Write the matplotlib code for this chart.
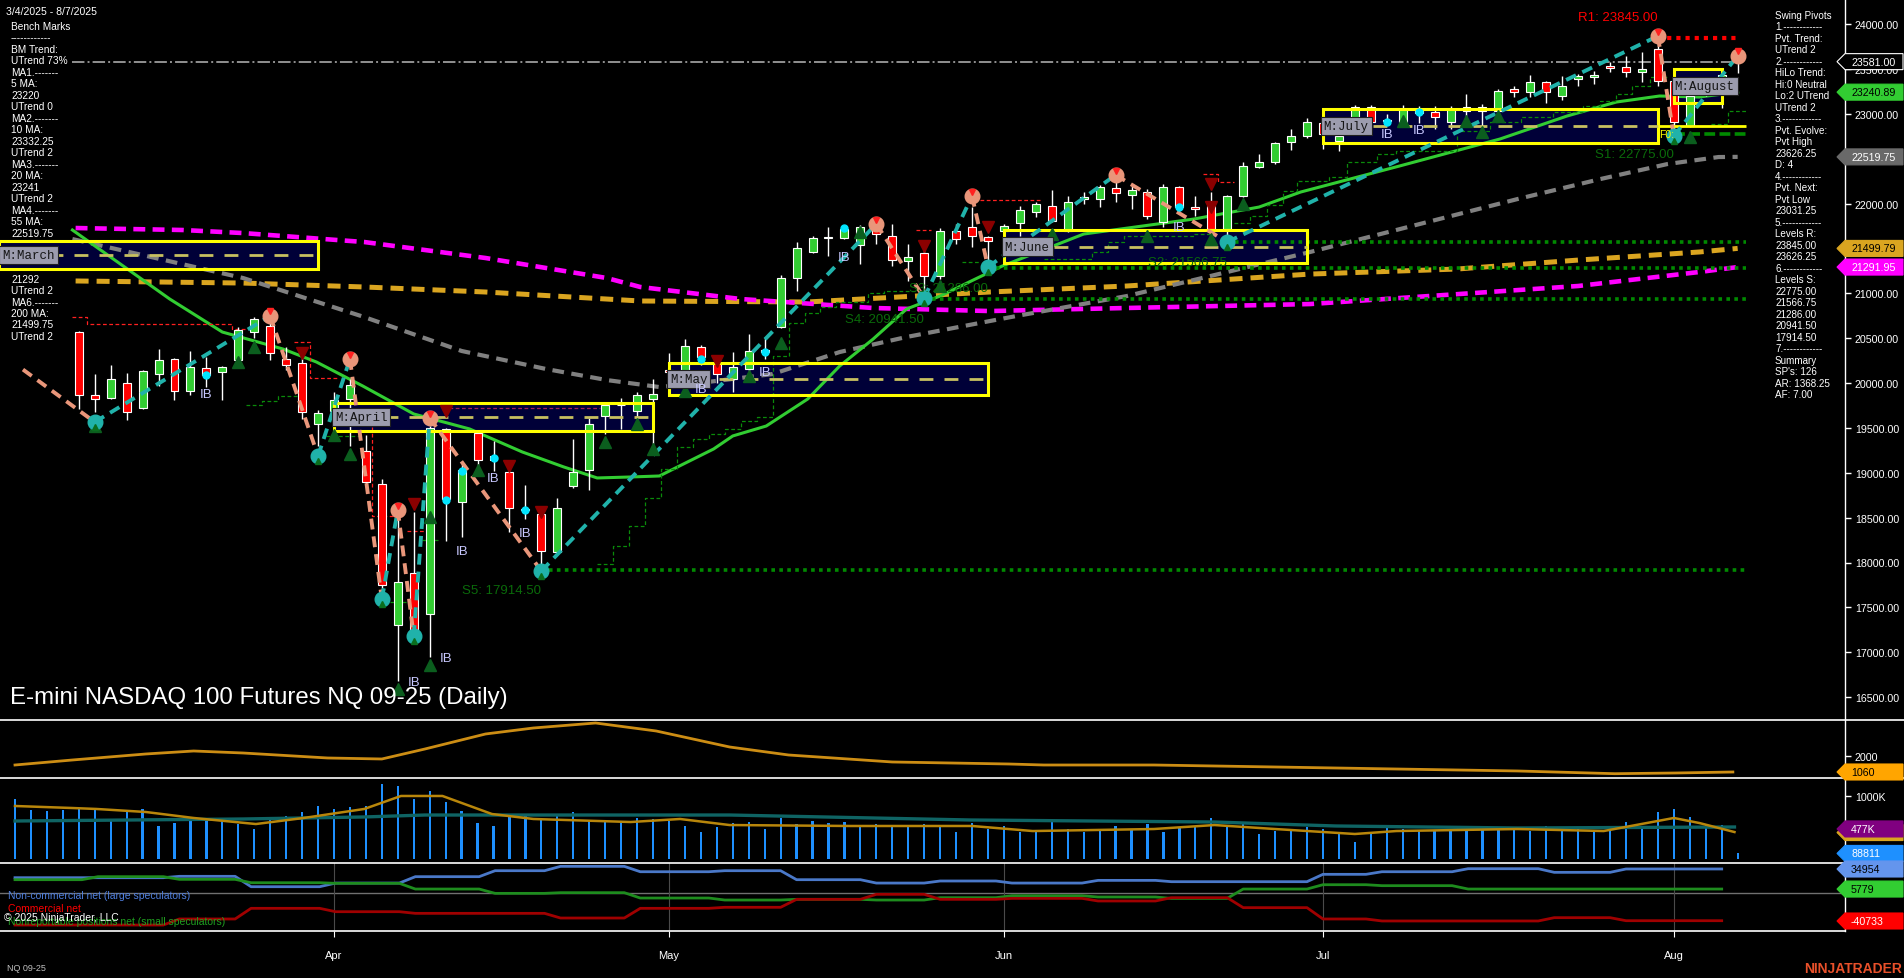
import matplotlib
matplotlib.use("Agg")
import matplotlib.pyplot as plt
from matplotlib.lines import Line2D
from matplotlib.patches import Rectangle, Polygon
from matplotlib.transforms import IdentityTransform
import numpy as np

plt.rcParams['font.family'] = ['Liberation Sans', 'DejaVu Sans']

W, H = 1904, 979

# ---------------- data ----------------
# bar index 0 = 3/4/2025, one bar per trading day
month_labels = ["Apr", "May", "Jun", "Jul", "Aug"]
month_first_bar = [20, 41, 62, 82, 104]

first_bar = 4  # 3/10/2025, first candle shown
opens = [20565, 19866, 19830, 19997, 19725, 20100, 20267, 19914, 20164, 20119,
         20260, 20572, 20639, 20267, 20223, 19540, 19690, 19822, 19239, 18871,
         17307, 17880, 17426, 19487, 18677, 19443, 19140, 19005, 18580, 18540,
         18120, 18856, 19034, 19629, 19750, 19691, 19822, 20150, 20050, 20398,
         20230, 20045, 20156, 20370, 20621, 21173, 21463, 21615, 21612, 21538,
         21720, 21635, 21363, 21449, 21196, 21697, 21735, 21624, 21697, 21782,
         21910, 21969, 21697, 22050, 22050, 22169, 22092, 22132, 21790, 22180,
         21958, 21969, 21716, 22087, 22410, 22466, 22682, 22756, 22900, 22700,
         22900, 23072, 22915, 22905, 23010, 23016, 22905, 23072, 23035, 23035,
         23276, 23239, 23350, 23201, 23387, 23406, 23529, 23518, 23462, 23721,
         23369, 22867, 23369, 23260, 23620]
highs = [20580, 20100, 20200, 20111, 20150, 20379, 20275, 20360, 20286, 20190,
         20621, 20732, 20788, 20400, 20350, 19700, 19900, 20045, 19420, 18930,
         18577, 18566, 19520, 19500, 19097, 19460, 19357, 19060, 18863, 18590,
         18715, 19376, 19606, 19792, 19830, 19897, 20045, 20334, 20490, 20420,
         20250, 20342, 20546, 20509, 21203, 21568, 21641, 21735, 21746, 21760,
         21772, 21772, 21549, 21500, 21723, 21772, 21960, 21641, 21772, 21969,
         22014, 22150, 22081, 22128, 22206, 22260, 22199, 22162, 22217, 22200,
         22087, 22124, 22100, 22458, 22552, 22689, 22830, 22950, 22950, 22900,
         23100, 23100, 23000, 23100, 23090, 23090, 23090, 23220, 23110, 23276,
         23313, 23432, 23369, 23417, 23443, 23481, 23573, 23647, 23685, 23845,
         23400, 23220, 23400, 23480, 23650]
lows = [19710, 19680, 19825, 19591, 19715, 19970, 19814, 19866, 19952, 19814,
        20230, 20498, 20256, 20150, 19600, 19302, 19650, 19302, 18850, 17590,
        16683, 17150, 16944, 18243, 18281, 18967, 19023, 18337, 18485, 17914,
        18110, 18834, 18811, 19432, 19487, 19599, 19320, 19980, 19950, 20200,
        20000, 19900, 20138, 20267, 20610, 21029, 21448, 21412, 21600, 21326,
        21550, 21307, 21140, 20942, 21159, 21549, 21512, 21286, 21660, 21641,
        21846, 21791, 21679, 21990, 21958, 22014, 21939, 21827, 21735, 21900,
        21864, 21679, 21567, 22069, 22392, 22440, 22600, 22730, 22607, 22590,
        22880, 22850, 22880, 22880, 22900, 22830, 22830, 22867, 22830, 23000,
        23183, 23183, 23120, 23157, 23313, 23332, 23462, 23406, 23357, 23313,
        22775, 22850, 23200, 23060, 23450]
closes = [19870, 19822, 20045, 19673, 20134, 20256, 19914, 20175, 20089, 20175,
          20591, 20713, 20331, 20204, 19673, 19662, 19810, 19978, 18894, 17753,
          17779, 17185, 19495, 18707, 19034, 19145, 19190, 18604, 18600, 18132,
          18604, 19012, 19543, 19755, 19760, 19866, 19878, 20120, 20416, 20288,
          20100, 20175, 20360, 20340, 21166, 21501, 21612, 21625, 21716, 21735,
          21660, 21374, 21400, 21196, 21697, 21604, 21635, 21586, 21753, 21928,
          21995, 21802, 22014, 22070, 22180, 22117, 22154, 21864, 22180, 21958,
          21939, 21716, 22080, 22421, 22466, 22674, 22756, 22905, 22780, 22756,
          23072, 22905, 22930, 23053, 23030, 22961, 23053, 23035, 23072, 23257,
          23239, 23350, 23239, 23313, 23424, 23432, 23506, 23462, 23499, 23368,
          22905, 23201, 23276, 23430, 23581]

# moving averages (bar index, price)
ma20_i = [3.6, 9.7, 13, 16.8, 18.9, 21.8, 25, 28.5, 31.8, 34.4, 36.5, 38.6, 40.4, 43.8, 45, 47.1,
          49.7, 51.7, 53.8, 55.9, 58, 61.9, 67, 73.9, 78, 80.6, 86.8, 93.1, 97.3, 100.4, 103.1, 105.6, 108]
ma20_p = [21705, 20936, 20568, 20379, 20234, 19967, 19655, 19488, 19232, 19065, 18942, 18953, 18964,
          19265, 19410, 19521, 19822, 20189, 20490, 20825, 20969, 21304, 21660, 21827, 21961, 22128,
          22418, 22719, 22975, 23131, 23198, 23187, 23241]
ma55_i = [3.6, 14.3, 21.9, 28, 33.3, 37.1, 40.4, 43.4, 47.5, 51.7, 55.9, 61.1, 62.8, 69.7, 76, 81.2,
          94.2, 99.4, 103.6, 106.8, 108]
ma55_p = [21604, 21170, 20735, 20357, 20156, 20033, 19955, 20011, 20100, 20345, 20513, 20690, 20747,
          20969, 21237, 21460, 22050, 22273, 22440, 22518, 22520]
ma100_i = [3.8, 10.5, 14.3, 21.9, 29.5, 37.1, 39.2, 45.5, 53.8, 61.1, 69.7, 81.2, 98, 105.6, 108]
ma100_p = [21727, 21705, 21671, 21571, 21393, 21170, 21070, 20936, 20836, 20802, 20836, 20880,
           21081, 21237, 21292]
ma200_i = [3.8, 14.3, 21.9, 29.5, 39.2, 49.7, 61.1, 69.7, 81.2, 90.4, 98, 105.6, 108]
ma200_p = [21137, 21114, 21070, 21014, 20914, 20903, 21014, 21081, 21214, 21270, 21370, 21460, 21500]

# swing pivots (alternating high / low, first one is a high)
piv_i = [0.5, 5, 16, 19, 21, 23, 24, 25, 26, 33, 54, 57, 60, 61, 69, 76, 103, 104, 108]
piv_p = [20150, 19565, 20747, 19187, 20267, 17593, 18585, 17181, 19610, 17905, 21772, 20947,
         22084, 21293, 22318, 21571, 23866, 22752, 23646]

# monthly ranges
box_names = ["March", "April", "May", "June", "July", "August"]
box_start = [-1, 20, 41, 62, 82, 104]
box_end = [19, 40, 61, 81, 103, 107]
box_top = [21582, 19777, 20223, 21705, 23053, 23499]
box_bot = [21270, 19465, 19866, 21337, 22674, 23120]

# support / resistance levels
level_names = ["R1", "S1", "S2", "S3", "S4", "S5"]
level_vals = [23845.00, 22775.00, 21566.75, 21286.00, 20941.50, 17914.50]
level_from = [103, 104, 76, 61, 57, 33]

# trailing stop steps (runs of [bar index, price])
green_stops = [
    [(14.5, 19755), (15.5, 19800), (16.5, 19855), (17.7, 19855)],
    [(19.5, 19409), (21.8, 19409)],
    [(23.5, 17560), (24.5, 17560)],
    [(25.5, 18251), (26.5, 18251)],
    [(36.5, 17983), (37.5, 18184), (38.5, 18407), (39.5, 18719), (40.5, 19040), (41.5, 19287),
     (42.5, 19376), (43.5, 19432), (44.5, 19488), (45.5, 19577), (46.5, 19621), (47.5, 20301),
     (48.5, 20669), (49.5, 20780), (50.5, 20847), (51.5, 20900), (53.5, 21003), (54.5, 21025),
     (57.3, 21025)],
    [(59.4, 21348), (60.5, 21348)],
    [(64.5, 21382), (67.5, 21460), (68.5, 21571), (69.5, 21641), (73.9, 21660), (75.0, 21660)],
    [(76.4, 21783), (77.4, 21861), (78.5, 21983), (79.5, 22139), (80.4, 22250), (82.4, 22295),
     (83.5, 22462), (85.4, 22552), (86.6, 22585), (90.4, 22808), (92.5, 22908), (94.4, 22964),
     (96.4, 23019), (98.3, 23086), (99.4, 23142), (100.4, 23220), (101.4, 23309), (102.5, 23409),
     (103.6, 23409)],
    [(106.3, 22886), (107.4, 23031), (108.5, 23031)],
]
red_stops = [
    [(3.6, 20735), (4.5, 20657), (13.6, 20602), (14.5, 20602)],
    [(17.5, 20457), (18.5, 20056), (20.3, 20056)],
    [(21.8, 19688), (22.4, 18518), (24.0, 18518)],
    [(24.6, 18351), (25.8, 18351)],
    [(56.5, 21705), (57.4, 21705)],
    [(60.5, 22039), (64.4, 22039)],
    [(74.5, 22329), (75.4, 22240), (76.4, 22240)],
]
maroon_stop = [(27.2, 19721), (36.7, 19721)]

up_tri_i = [5, 14, 15, 20, 21, 24, 26, 26, 29, 37, 39, 40, 42, 46, 48, 53, 58, 65, 71, 75, 77, 87, 91,
            92, 93, 105]
up_tri_p = [19521, 20234, 20401, 19420, 19209, 16591, 18507, 16858, 19031, 19343, 19543, 19265, 19911,
            20078, 20446, 21683, 21081, 21660, 21638, 21604, 21994, 22919, 22919, 22797, 22975, 22741]
dn_tri_i = [18, 25, 27, 31, 33, 44, 57, 61, 75, 75]
dn_tri_p = [20334, 18652, 19688, 19075, 18563, 20245, 21527, 21738, 22217, 21961]
ib_i = [12, 25, 27, 28, 30, 32, 43, 47, 52, 73, 86, 88]
ib_p = [19877, 16669, 16936, 18128, 18942, 18329, 19933, 20123, 21404, 21738, 22774, 22819]
dot_i = [12, 27, 28, 30, 32, 43, 47, 52, 73, 86, 88]
dot_p = [20089, 18697, 19020, 19164, 18585, 20267, 20346, 21727, 21961, 22908, 23019]

bm_level = 23581.0

# indicator panel
atr_i = [0, 3.6, 8.2, 11.2, 14.3, 19.6, 23, 25.7, 29.5, 32.5, 36.4, 40.2, 44.8, 48.5, 55, 62.3, 64.5,
         71.4, 79, 86.6, 94.2, 100.3, 104.1, 107.7]
atr_v = [1471, 1765, 2118, 2294, 2176, 1883, 1824, 2411, 3293, 3645, 3939, 3469, 2529, 2059, 1648,
         1530, 1471, 1471, 1354, 1236, 1120, 960, 1001, 1060]

# volume (thousands of contracts), one per bar from index 0
volume_k = [952, 782, 767, 782, 793, 782, 635, 741, 793,
            529, 571, 608, 635, 624, 555, 476, 635,
            687, 741, 836, 793, 820, 846, 1190, 1163, 952, 1084, 900, 767, 571, 529, 661, 687,
            645, 687, 741, 608, 608, 582, 645, 635, 608, 529, 423, 503, 571,
            582, 476, 645, 555, 608, 571, 582, 503, 555, 518, 540, 555, 503,
            423, 571, 476, 529, 423, 423,
            582, 476, 434, 476, 518, 476, 555, 423, 487, 518,
            645, 503, 571, 397, 450, 476, 503, 476, 397, 264,
            397, 503, 476, 450, 450, 476, 518, 518, 503,
            476, 450, 529, 503, 476, 450, 503, 582, 529,
            741, 793, 661, 540, 540, 89]
vma_fast_i = [0, 3.6, 5.1, 8.2, 11.2, 15.1, 18.1, 21.9, 24.2, 26.8, 29.9, 32.5, 38.6, 41.7, 44.8, 52.4,
              60, 63.8, 71.4, 75.2, 79, 84, 86.6, 94.2, 99.6, 104, 105.6, 107.8]
vma_fast_k = [841, 809, 794, 746, 651, 555, 651, 794, 1000, 1000, 714, 635, 587, 635, 539, 524, 524,
              444, 476, 539, 476, 397, 444, 476, 444, 651, 571, 428]
vma_slow_i = [0, 14.3, 21.9, 25.7, 44.8, 59.9, 75.2, 82.8, 94.2, 107.8]
vma_slow_k = [603, 635, 667, 698, 698, 619, 587, 524, 492, 508]

# COT weekly net positions (thousands), week boundaries in bar index
cot_breaks = [4.7, 9.8, 14.3, 19.6, 24.6, 29.6, 33.7, 38.7, 44.0, 48.5, 53.5, 57.5, 62.0, 67.4,
              72.0, 76.5, 81.5, 85.2, 90.6, 96.0, 100.5]
cot_large = [22.3, 22.3, 24.3, 9.2, 14.5, 23.8, 32.5, 38.8, 31.0, 32.5, 19.4, 14.5, 17.5, 14.5, 18.4,
             16.5, 16.5, 27.2, 31.0, 35.4, 30.1, 35.0]
cot_small = [19.4, 23.8, 19.9, 15.0, 14.1, 5.8, -0.5, 0.5, -7.3, -10.2, -9.2, -10.2, -6.8, -3.9, -5.8,
             -7.8, 5.8, 12.1, 10.7, 5.8, 5.8, 5.8]
cot_comm = [-46.6, -46.6, -37.8, -22.3, -27.2, -29.6, -29.6, -36.4, -22.3, -20.8, -9.2, -1.9, -9.2,
            -7.8, -11.6, -6.8, -21.3, -37.8, -40.7, -40.7, -35.9, -40.3]

left_lines = ["Bench Marks", "------------", "BM Trend:", "UTrend 73%", "MA1.-------", "5 MA:", "23220",
              "UTrend 0", "MA2.-------", "10 MA:", "23332.25", "UTrend 2", "MA3.-------", "20 MA:",
              "23241", "UTrend 2", "MA4.-------", "55 MA:", "22519.75", "UTrend 2", "MA5.-------",
              "100 MA:", "21292", "UTrend 2", "MA6.-------", "200 MA:", "21499.75", "UTrend 2"]
right_lines = ["Swing Pivots", "1.------------", "Pvt. Trend:", "UTrend 2", "2.------------",
               "HiLo Trend:", "Hi:0 Neutral", "Lo:2 UTrend", "UTrend 2", "3.------------",
               "Pvt. Evolve:", "Pvt High", "23626.25", "D: 4", "4.------------", "Pvt. Next:",
               "Pvt Low", "23031.25", "5.------------", "Levels R:", "23845.00", "23626.25",
               "6.------------", "Levels S:", "22775.00", "21566.75", "21286.00", "20941.50",
               "17914.50", "7.------------", "Summary", "SP's: 126", "AR: 1368.25", "AF: 7.00"]

# ---------------- figure ----------------
fig = plt.figure(figsize=(W / 100, H / 100), dpi=100, facecolor="black")
XR = 1845
ax = fig.add_axes([0, (H - 721) / H, XR / W, 721 / H])
ax2 = fig.add_axes([0, (H - 779) / H, XR / W, 58 / H])
ax3 = fig.add_axes([0, (H - 864) / H, XR / W, 85 / H])
ax4 = fig.add_axes([0, (H - 932) / H, XR / W, 68 / H])

xlim = (-0.94, 114.73)
for a in (ax, ax2, ax3, ax4):
    a.set_facecolor("black")
    a.set_xlim(*xlim)
    for s in a.spines.values():
        s.set_visible(False)
    a.tick_params(axis="x", bottom=False, labelbottom=False)
    a.yaxis.tick_right()
    a.tick_params(axis="y", colors="white", labelcolor="white", labelsize=7.7, length=4, width=1,
                  direction="out", pad=3)

ax.set_ylim(16245, 24279)
ax2.set_ylim(707, 4115)
ax3.set_ylim(-63, 1285)
ax4.set_ylim(-55.3, 43.7)

ax.set_yticks(np.arange(16500, 24001, 500))
ax.set_yticklabels([f"{v:.2f}" for v in np.arange(16500, 24001, 500)])
ax2.set_yticks([2000])
ax2.set_yticklabels(["2000"])
ax3.set_yticks([1000])
ax3.set_yticklabels(["1000K"])
ax4.set_yticks([])

# left / right text blocks
ax.text(6 / W, 1 - 12 / H, "3/4/2025 - 8/7/2025", transform=fig.transFigure, color="white",
        fontsize=7.6, va="center", zorder=0.5)
for k, s in enumerate(left_lines):
    ax.text(11 / W, 1 - (27 + k * 11.48) / H, s, transform=fig.transFigure, color="white",
            fontsize=7.3, va="center", zorder=0.5)
for k, s in enumerate(right_lines):
    ax.text(1775 / W, 1 - (15.7 + k * 11.5) / H, s, transform=fig.transFigure, color="white",
            fontsize=7.1, va="center", zorder=0.5)

# monthly boxes
for name, s0, s1, top, bot in zip(box_names, box_start, box_end, box_top, box_bot):
    mid = (top + bot) / 2
    ax.add_patch(Rectangle((s0, bot), s1 - s0, top - bot, facecolor="#000038", edgecolor="none", zorder=1))
    ax.add_patch(Rectangle((s0, bot), s1 - s0, top - bot, fill=False, edgecolor="#ffff00", lw=2.2, zorder=4.5))
    ax.hlines(mid, s0, s1, colors="#c8c060", linestyles=(0, (5, 4)), lw=2, zorder=4.6)
    ax.text(max(s0, xlim[0] + 0.1) + 0.05, mid, "M:" + name, family="Liberation Mono", fontsize=9,
            color="#151515", va="center", ha="left", zorder=7,
            bbox=dict(boxstyle="square,pad=0.25", facecolor="#9c9cae", edgecolor="#202020", lw=0.8))
# previous month mid extended
ax.hlines((box_top[4] + box_bot[4]) / 2, box_end[4], 108.5, colors="#ffff00", lw=2, zorder=4.6)
ax.text(box_end[4] + 0.1, (box_top[4] + box_bot[4]) / 2 - 90, "F0:", color="#ffff00", fontsize=7.5,
        va="center", zorder=7)

# moving averages
ax.plot(ma200_i, ma200_p, color="#daa520", lw=3.6, ls=(0, (2.6, 1.6)), zorder=2)
ax.plot(ma100_i, ma100_p, color="#ff00ff", lw=3.3, ls=(0, (2.6, 1.6)), zorder=2)
ax.plot(ma55_i, ma55_p, color="#808080", lw=3.0, ls=(0, (2.8, 1.8)), zorder=2)
ax.plot(ma20_i, ma20_p, color="#32cd32", lw=2.2, zorder=2.2)
ax.hlines(bm_level, 3.6, 108, colors="#909090", linestyles="dashdot", lw=1.4, zorder=2)

# trailing stops
for run in green_stops:
    xs, ys = zip(*run)
    ax.plot(xs, ys, drawstyle="steps-post", color="#0a8a0a", lw=0.9, ls=(0, (3, 2)), zorder=2.5)
for run in red_stops:
    xs, ys = zip(*run)
    ax.plot(xs, ys, drawstyle="steps-post", color="#ff2020", lw=0.9, ls=(0, (3, 2)), zorder=2.5)
xs, ys = zip(*maroon_stop)
ax.plot(xs, ys, color="#a0205a", lw=0.9, ls=(0, (3, 2)), zorder=2.5)

# support / resistance levels
for name, v, start in zip(level_names, level_vals, level_from):
    if name.startswith("R"):
        ax.hlines(v, start, 108, colors="#ff0000", linestyles=(0, (1, 1.2)), lw=3, zorder=2.6)
        ax.annotate(f"{name}: {v:.2f}", xy=(start, v), xytext=(0, 21), textcoords="offset pixels",
                    ha="right", va="center", color="#ff0000", fontsize=9.5, zorder=7)
    else:
        style = (0, (3, 1.2)) if name == "S1" else (0, (1, 1.2))
        ax.hlines(v, start, 108.5, colors="#008a00", linestyles=style, lw=2.6, zorder=2.6)
        ax.annotate(f"{name}: {v:.2f}", xy=(start, v), xytext=(0, -20), textcoords="offset pixels",
                    ha="right", va="center", color="#0a6a0a", fontsize=9.5, zorder=7)

# candles
idx = np.arange(first_bar, first_bar + len(opens))
o = np.array(opens, float)
c = np.array(closes, float)
ax.vlines(idx, lows, highs, color="white", lw=1, zorder=3)
body_col = ["#32cd32" if cc >= oo else "#ff0000" for oo, cc in zip(o, c)]
ax.bar(idx, c - o, bottom=o, width=0.5, color=body_col, edgecolor="white", lw=0.8, zorder=4)

# swing lines and pivots
for k in range(len(piv_i) - 1):
    up = piv_p[k + 1] > piv_p[k]
    ax.plot(piv_i[k:k + 2], piv_p[k:k + 2], color="#20b2aa" if up else "#e9967a", lw=2.8,
            ls=(0, (2.8, 1.8)), solid_capstyle="butt", zorder=5)
for k in range(1, len(piv_i)):
    high = k % 2 == 0
    ax.plot(piv_i[k], piv_p[k], "o", ms=10.5, color="#e9967a" if high else "#20b2aa", zorder=6)
    ax.plot(piv_i[k], piv_p[k] + (50 if high else -60), "v" if high else "^", ms=4.5,
            color="#ff2020" if high else "#0a6e1e", zorder=6.1)

# signal markers
ax.plot(up_tri_i, up_tri_p, "^", ms=9, color="#0b5e1e", ls="none", zorder=5.5)
ax.plot(dn_tri_i, dn_tri_p, "v", ms=9, color="#8b0000", ls="none", zorder=5.5)
ax.plot(dot_i, dot_p, "o", ms=5, color="#00e5ff", ls="none", zorder=5.6)
for xi, yp in zip(ib_i, ib_p):
    ax.text(xi, yp, "IB", color="#c8c8ff", fontsize=9.5, ha="center", va="center", zorder=7)

ax.text(10 / W, 1 - 698 / H, "E-mini NASDAQ 100 Futures NQ 09-25 (Daily)", transform=fig.transFigure,
        color="white", fontsize=17.3, va="center", ha="left", zorder=8)

# indicator panel
ax2.plot(atr_i, atr_v, color="#cc8d14", lw=2)

# volume panel
ax3.bar(np.arange(len(volume_k)), volume_k, width=0.14, color="#1e90ff", zorder=2)
ax3.plot(vma_slow_i, vma_slow_k, color="#0f6464", lw=2.4, zorder=3)
ax3.plot(vma_fast_i, vma_fast_k, color="#b8860b", lw=1.8, zorder=4)

# COT panel
def cot_path(values):
    xs, ys = [], []
    edges = [0] + cot_breaks + [107]
    for w, v in enumerate(values):
        a0 = edges[w] + (0 if w == 0 else 0.5)
        a1 = edges[w + 1] - (0 if w == len(values) - 1 else 0.5)
        xs += [a0, a1]
        ys += [v, v]
    return xs, ys

ax4.axhline(0, color="#707070", lw=1, zorder=1)
for m in month_first_bar:
    ax4.axvline(m, color="#4a4a4a", lw=0.8, zorder=1)
for vals, col in ((cot_large, "#4a78c8"), (cot_small, "#1e8c1e"), (cot_comm, "#a00000")):
    xs, ys = cot_path(vals)
    ax4.plot(xs, ys, color=col, lw=2, zorder=2)
ax4.set_xticks(month_first_bar)
ax4.set_xticklabels(month_labels)
ax4.tick_params(axis="x", bottom=True, labelbottom=True, colors="white", labelcolor="white",
                length=4, pad=10, labelsize=8)

fig.text(8 / W, 1 - 896 / H, "Non-commercial net (large speculators)", color="#4f7fdf", fontsize=7.5, va="center")
fig.text(8 / W, 1 - 909 / H, "Commercial net", color="#ff0000", fontsize=7.5, va="center")
fig.text(8 / W, 1 - 922 / H, "Nonreportable positions net (small speculators)", color="#20a020", fontsize=7.5, va="center")
fig.text(4 / W, 1 - 918 / H, "\u00a9 2025 NinjaTrader, LLC", color="white", fontsize=7.5, va="center")
fig.text(7 / W, 1 - 969 / H, "NQ 09-25", color="#c0c0c0", fontsize=6.5, va="center")
fig.text(1902 / W, 1 - 969 / H, "NINJATRADER", color="#e8502a", fontsize=10, weight="bold",
         va="center", ha="right")

# frame lines
for yy, x1 in ((721, W), (779, W), (864, XR), (932, XR)):
    fig.add_artist(Line2D([0, x1 / W], [1 - yy / H, 1 - yy / H], transform=fig.transFigure,
                          color="white", lw=1.2))
fig.add_artist(Line2D([XR / W, XR / W], [1 - 932 / H, 1], transform=fig.transFigure, color="white", lw=1))

# price tags on the right scale
def price_tag(a, value, text, face, tcolor, edge=None):
    yd = a.transData.transform((0, value))[1]
    h = 8
    poly = Polygon([[1837, yd], [XR, yd + h], [1903, yd + h], [1903, yd - h], [XR, yd - h]],
                   closed=True, transform=IdentityTransform(), facecolor=face,
                   edgecolor=edge or face, lw=0.8, zorder=10)
    fig.add_artist(poly)
    fig.text(1851 / W, yd / H, text, color=tcolor, fontsize=7.7, va="center", ha="left", zorder=11)

price_tag(ax, bm_level, "23581.00", "black", "white", edge="white")
price_tag(ax, 23240.89, "23240.89", "#32cd32", "black")
price_tag(ax, 22519.75, "22519.75", "#696969", "white")
price_tag(ax, 21499.79, "21499.79", "#daa520", "black")
price_tag(ax, 21291.95, "21291.95", "#ff00ff", "white")
price_tag(ax2, atr_v[-1], "1060", "#ffa500", "black")
price_tag(ax3, 420, "", "#daa520", "black")
price_tag(ax3, 477, "477K", "#800080", "white")
price_tag(ax3, volume_k[-1], "88811", "#1e90ff", "white")
price_tag(ax4, 34.954, "34954", "#6495ed", "black")
price_tag(ax4, 5.779, "5779", "#32cd32", "black")
price_tag(ax4, -40.733, "-40733", "#ff0000", "white")

fig.savefig("out.png", dpi=100, facecolor="black")
